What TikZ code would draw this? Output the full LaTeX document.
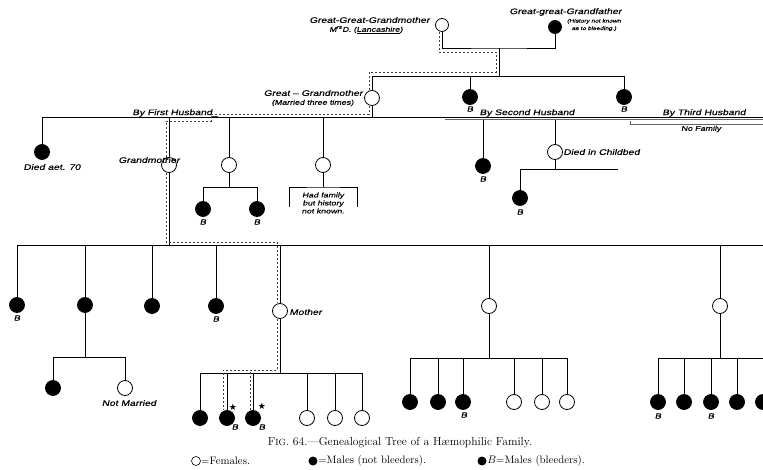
\documentclass[tikz,border=0pt]{standalone}
\usepackage{fontspec}
\newfontfamily\rotulo[FakeStretch=1.3,FakeSlant=0.2,FakeBold=0.6]{Liberation Sans}
\newfontfamily\simbolo{DejaVu Sans}

\begin{document}
\begin{tikzpicture}[x=1pt, y=-1pt, line width=0.8pt,
  mujer/.style={circle, draw, fill=white, minimum size=15pt, inner sep=0pt},
  varon/.style={circle, draw, fill=black, minimum size=15pt, inner sep=0pt},
  rot/.style={font=\rotulo\fontsize{8}{9}\selectfont, inner sep=0pt},
  rotp/.style={font=\rotulo\fontsize{6.8}{8}\selectfont, inner sep=0pt, align=center},
  rotpp/.style={font=\rotulo\fontsize{5}{7.5}\selectfont, inner sep=0pt, align=center},
  marca/.style={font=\rotulo\fontsize{7.5}{8}\selectfont, inner sep=0pt},
  via/.style={black!75, line width=0.6pt, dash pattern=on 2.5pt off 1.5pt},
  leyenda/.style={font=\fontsize{10.8}{12}\selectfont, inner sep=0pt}]
  \useasboundingbox (0,0) rectangle (763,470);
  % --- tatarabuelos ---
  \node[mujer, minimum size=13pt] (gggm) at (442,25) {};
  \node[varon, minimum size=13pt] (gggf) at (555,27) {};
  \coordinate (t0) at (499,48);
  \coordinate (t1) at (499,76);
  \draw (gggm.south) |- (t0) -| (gggf.south);
  \draw (t0) -- (t1);
  \node[rot, anchor=east] (lgggm) at (430,20) {Great-Great-Grandmother};
  \node[rotp] (lmrs) at (366,30) {M\textsuperscript{rs}D. (\underline{Lancashire})};
  \node[rot, anchor=west] (lgggf) at (509,12) {Great-great-Grandfather};
  \node[rotpp] (lhist) at (594,25) {(History not known\\as to bleeding.)};
  % --- bisabuela y hermanos ---
  \node[mujer] (ggm) at (372,98) {};
  \node[varon] (b1) at (470,97) {};
  \node[varon] (b2) at (624,97) {};
  \draw (ggm.north) -- (ggm.north |- t1) -- (t1 -| b2) -- (b2.north);
  \draw (b1.north) -- (b1.north |- t1);
  \node[rot, anchor=east] (lggm) at (363,93) {Great – Grandmother};
  \node[rotp, anchor=east] (lmarried) at (354,103) {(Married three times)};
  % --- primer marido ---
  \coordinate (h1) at (42,117);
  \coordinate (h1e) at (763,117);
  \draw (ggm.south) -- (ggm.south |- h1);
  \draw (h1) -- (h1e);
  \node[varon] (d70) at (42,152) {};
  \draw (h1) -- (d70.north);
  \node[mujer] (gm) at (169,165) {};
  \node[mujer] (c2) at (229,165) {};
  \node[mujer] (c3) at (323,165) {};
  \foreach \n in {gm,c2,c3} { \draw (\n.north) -- (\n.north |- h1); }
  \node[rot, anchor=west] (lfirst) at (132,113) {By First Husband\_};
  \node[rot] (ld70) at (52,167) {Died aet. 70};
  \node[rot, anchor=west] (lgm) at (118,160) {Grandmother};
  % hijos de c2
  \coordinate (s2) at (229,187);
  \node[varon] (b3) at (203,209) {};
  \node[varon] (b4) at (257,209) {};
  \draw (c2.south) -- (s2);
  \draw (b3.north) -- (b3.north |- s2) -- (s2 -| b4) -- (b4.north);
  % familia de c3
  \coordinate (s3) at (323,187);
  \coordinate (k1) at (289,207);
  \coordinate (k2) at (357,207);
  \draw (c3.south) -- (s3);
  \draw (k1) |- (s3) -| (k2);
  \node[rotp] (lhad) at (323,203) {Had family\\but history\\not known.};
  % --- segundo y tercer marido ---
  \coordinate (sh) at (445,120.5);
  \coordinate (she) at (763,120.5);
  \draw[black!60, line width=0.4pt, double distance=1.2pt] (sh) -- (she);
  \coordinate (th1) at (630,121.5);
  \coordinate (th2) at (763,124.5);
  \draw[black!60, line width=0.5pt] (th1) |- (th2);
  \node[rot] (lsecond) at (527,113) {By Second Husband};
  \node[rot] (lthird) at (704,113) {By Third Husband};
  \node[rotp] (lnofam) at (701,129) {No Family};
  \node[varon] (b5) at (483,166) {};
  \node[mujer] (dc) at (555,152) {};
  \draw (b5.north) -- (b5.north |- sh);
  \draw (dc.north) -- (dc.north |- sh);
  \node[rot, anchor=west] (ldc) at (563,152) {Died in Childbed};
  \coordinate (s4) at (555,169);
  \coordinate (s4e) at (618,169);
  \node[varon] (b6) at (520,198) {};
  \draw (dc.south) -- (s4);
  \draw (b6.north) |- (s4e);
  % --- nietos ---
  \coordinate (h3) at (17,245);
  \coordinate (h3e) at (763,245);
  \draw (gm.south) -- (gm.south |- h3);
  \draw (h3) -- (h3e);
  \node[varon] (n1) at (17,305) {};
  \node[varon] (n2) at (85,305) {};
  \node[varon] (n3) at (152,306) {};
  \node[varon] (n4) at (216,306) {};
  \node[mujer] (mo) at (280,311) {};
  \node[mujer] (n5) at (489,306) {};
  \node[mujer] (n6) at (720,306) {};
  \foreach \n in {n1,n2,n3,n4,mo,n5,n6} { \draw (\n.north) -- (\n.north |- h3); }
  \node[rot, anchor=west] (lmo) at (289,312) {Mother};
  % hijos de n2
  \coordinate (s5) at (85,357);
  \node[varon] (q1) at (53,388) {};
  \node[mujer] (q2) at (125,388) {};
  \draw (n2.south) -- (s5);
  \draw (q1.north) -- (q1.north |- s5) -- (s5 -| q2) -- (q2.north);
  \node[rot] (lnm) at (129,403) {Not Married};
  % hijos de la madre
  \coordinate (s6) at (280,373);
  \draw (mo.south) -- (s6);
  \foreach \x/\t [count=\i] in {200/varon,227/varon,253/varon,307/mujer,335/mujer,362/mujer} {
    \node[\t] (m\i) at (\x,418) {};
    \draw (m\i.north) -- (m\i.north |- s6);
  }
  \draw (m1.north |- s6) -- (m6.north |- s6);
  % hijos de n5
  \coordinate (s7) at (489,358);
  \draw (n5.south) -- (s7);
  \foreach \x/\t [count=\i] in {410/varon,438/varon,463/varon,514/mujer,542/mujer,567/mujer} {
    \node[\t] (r\i) at (\x,402) {};
    \draw (r\i.north) -- (r\i.north |- s7);
  }
  \draw (r1.north |- s7) -- (r6.north |- s7);
  % hijos de n6
  \coordinate (s8) at (720,358);
  \coordinate (s8e) at (763,358);
  \draw (n6.south) -- (s8);
  \foreach \x [count=\i] in {658,684,711,737,763} {
    \node[varon] (p\i) at (\x,402) {};
    \draw (p\i.north) -- (p\i.north |- s8);
  }
  \draw (p1.north |- s8) -- (s8e);
  % --- linea de descendencia (trazos) ---
  \draw[via] ([xshift=-3pt]gggm.south) |- (496,52) -- (496,72) -| ([xshift=-3pt]ggm.north);
  \draw[via] ([xshift=-3pt]ggm.south) |- (211,114) -- (211,121) -| ([xshift=-3pt]gm.north);
  \draw[via] ([xshift=-3pt]gm.south) |- (277,242) -- ([xshift=-3pt]mo.north);
  \draw[via] ([xshift=-3pt]mo.south) |- (223,370) -- ([xshift=-4pt]m2.north);
  \draw[via] ([xshift=-3pt]m3.north) -- ([xshift=-3pt]m3.north |- 0,370);
  % --- sangradores (B) ---
  \foreach \n/\x/\y in {bb1/470/109, bb2/624/109, bb3/203/222, bb4/257/222, bb5/483/179,
      bb6/520/212, bn1/17/318, bn4/216/319, bm2/235/427, bm3/262/427, br3/464/415,
      bp1/658/416, bp3/711/416} {
    \node[marca] (\n) at (\x,\y) {B};
  }
  \node[font=\simbolo\fontsize{9}{9}\selectfont, inner sep=0pt] (st1) at (233,407) {★};
  \node[font=\simbolo\fontsize{9}{9}\selectfont, inner sep=0pt] (st2) at (262,406) {★};
  % --- pie de figura ---
  \node[font=\fontsize{11.6}{13}\selectfont, inner sep=0pt] (cap) at (400,443)
    {F{\fontsize{9}{10}\selectfont IG}. 64.—Genealogical Tree of a Hæmophilic Family.};
  \node[circle, draw, line width=0.6pt, minimum size=9pt, inner sep=0pt] (lgf) at (196,461) {};
  \node[leyenda, anchor=west] (tgf) at (lgf.east) {=Females.};
  \node[circle, fill=black, minimum size=9pt, inner sep=0pt] (lgm) at (313,461) {};
  \node[leyenda, anchor=west] (tgm) at (lgm.east) {=Males (not bleeders).};
  \node[circle, fill=black, minimum size=9pt, inner sep=0pt] (lgb) at (482,461) {};
  \node[leyenda, anchor=west] (tgb) at (lgb.east) {$B$=Males (bleeders).};
\end{tikzpicture}
\end{document}
